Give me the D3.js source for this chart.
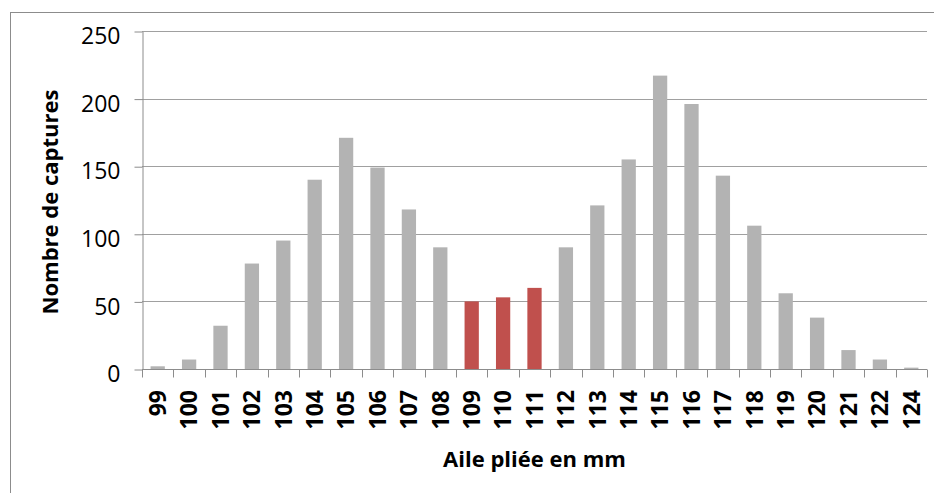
<!DOCTYPE html>
<html>
<head>
<meta charset="utf-8">
<script src="https://cdn.jsdelivr.net/npm/d3@7"></script>
<style>
  html, body { margin: 0; padding: 0; background: #fff; }
  svg { display: block; }
</style>
</head>
<body>
<svg id="chart" width="934" height="493"></svg>
<script>
// ---- data ----
const categories = ["99","100","101","102","103","104","105","106","107","108","109","110","111","112","113","114","115","116","117","118","119","120","121","122","124"];
const captures   = [2, 7, 32, 78, 95, 140, 171, 149, 118, 90, 50, 53, 60, 90, 121, 155, 217, 196, 143, 106, 56, 38, 14, 7, 1];
const highlighted = ["109", "110", "111"];
const yTicks = [0, 50, 100, 150, 200, 250];
const xTitle = "Aile pliée en mm";
const yTitle = "Nombre de captures";

// ---- layout ----
const svg = d3.select("#chart");
const plot = { left: 142, right: 927, top: 31, bottom: 369 };
const font = "'Open Sans', 'Liberation Sans', sans-serif";

// outer chart border
svg.append("rect")
  .attr("x", 10.5).attr("y", 12.5)
  .attr("width", 940).attr("height", 500)
  .attr("fill", "none").attr("stroke", "#8c8c8c").attr("stroke-width", 1);

const x = d3.scaleBand().domain(categories).range([plot.left, plot.right]).padding(0);
const y = d3.scaleLinear().domain([0, 250]).range([plot.bottom, plot.top]);

// gridlines
svg.append("g")
  .selectAll("line")
  .data(yTicks.filter(d => d > 0))
  .join("line")
  .attr("x1", plot.left).attr("x2", plot.right)
  .attr("y1", d => Math.round(y(d)) + 0.5).attr("y2", d => Math.round(y(d)) + 0.5)
  .attr("stroke", "#a0a0a0").attr("stroke-width", 1);

// bars
const barW = x.bandwidth() / 2.2;
svg.append("g")
  .selectAll("rect")
  .data(categories.map((c, i) => ({ c, v: captures[i] })))
  .join("rect")
  .attr("x", d => x(d.c) + (x.bandwidth() - barW) / 2)
  .attr("width", barW)
  .attr("y", d => y(d.v))
  .attr("height", d => y(0) - y(d.v))
  .attr("fill", d => highlighted.includes(d.c) ? "#c0504d" : "#b3b3b3");

// y axis
const yAxis = d3.axisLeft(y)
  .tickValues(yTicks)
  .tickFormat(d3.format("d"))
  .tickSizeInner(8).tickSizeOuter(0).tickPadding(14);
const gy = svg.append("g")
  .attr("transform", `translate(${plot.left + 0.5},0.5)`)
  .call(yAxis);
gy.select(".domain").attr("stroke", "#8c8c8c");
gy.selectAll(".tick line").attr("stroke", "#8c8c8c");
gy.selectAll(".tick text")
  .attr("font-family", font).attr("font-size", 23).attr("fill", "#000")
  .attr("dy", "0.53em");

// x axis line
const gx = svg.append("g").attr("transform", "translate(0,0.5)");
gx.append("line")
  .attr("x1", plot.left).attr("x2", plot.right)
  .attr("y1", Math.round(y(0))).attr("y2", Math.round(y(0)))
  .attr("stroke", "#8c8c8c");
// tick marks at category boundaries
const boundaries = categories.map(c => x(c)).concat([x(categories[categories.length - 1]) + x.bandwidth()]);
gx.selectAll("line.tk")
  .data(boundaries)
  .join("line")
  .attr("class", "tk")
  .attr("x1", d => Math.round(d) + 0.5).attr("x2", d => Math.round(d) + 0.5)
  .attr("y1", Math.round(y(0))).attr("y2", Math.round(y(0)) + 8)
  .attr("stroke", "#8c8c8c");

// x tick labels (rotated)
svg.append("g")
  .selectAll("text")
  .data(categories)
  .join("text")
  .attr("transform", d => `translate(${x(d) + x.bandwidth() / 2},390) rotate(-90)`)
  .attr("text-anchor", "end")
  .attr("dy", "0.36em")
  .attr("font-family", font).attr("font-weight", "bold").attr("font-size", 23)
  .attr("fill", "#000")
  .text(d => d);

// axis titles
svg.append("text")
  .attr("x", (plot.left + plot.right) / 2).attr("y", 467)
  .attr("text-anchor", "middle")
  .attr("font-family", font).attr("font-weight", "bold").attr("font-size", 22)
  .attr("fill", "#000")
  .text(xTitle);

svg.append("text")
  .attr("transform", "translate(58,202) rotate(-90)")
  .attr("text-anchor", "middle")
  .attr("font-family", font).attr("font-weight", "bold").attr("font-size", 22)
  .attr("fill", "#000")
  .text(yTitle);
</script>
</body>
</html>
